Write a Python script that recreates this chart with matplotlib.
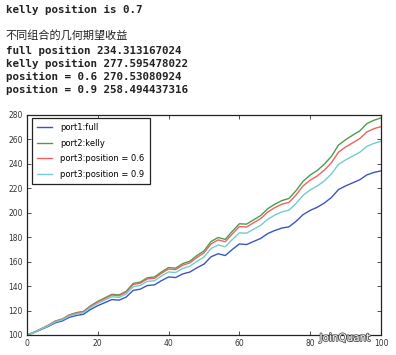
import matplotlib
matplotlib.use("Agg")
import matplotlib.pyplot as plt
import matplotlib.patheffects as pe

# printed results above the chart
kelly_line = "kelly position is 0.7"
title_cn = "不同组合的几何期望收益"
result_lines = [
    "full position 234.313167024",
    "kelly position 277.595478022",
    "position = 0.6 270.53080924",
    "position = 0.9 258.494437316",
]

# x positions (every second step of the simulation)
steps = list(range(0, 101, 2))

port_full = [100.0, 102.0, 104.5, 107.0, 110.0, 111.5, 114.5, 116.0, 117.0, 121.0,
             124.0, 126.5, 129.0, 128.5, 131.0, 136.5, 137.5, 140.5, 141.0, 144.5,
             147.5, 147.0, 150.0, 151.5, 155.0, 158.0, 164.0, 166.5, 165.0, 170.0,
             174.5, 174.0, 176.5, 179.0, 183.0, 185.5, 187.5, 188.5, 193.0, 198.5,
             202.0, 204.5, 208.0, 212.5, 219.0, 222.0, 224.5, 227.0, 231.0, 233.0,
             234.3]
port_kelly = [100.0, 102.3, 105.1, 108.0, 111.4, 113.1, 116.5, 118.3, 119.4, 124.0,
              127.5, 130.4, 133.3, 132.8, 135.7, 142.2, 143.3, 146.8, 147.5, 151.6,
              155.2, 154.7, 158.4, 160.4, 165.0, 168.8, 176.5, 179.8, 178.2, 184.9,
              191.0, 190.7, 194.2, 197.7, 203.3, 207.0, 210.0, 211.7, 218.1, 225.8,
              230.9, 234.6, 239.8, 246.2, 255.4, 259.8, 263.5, 267.0, 272.9, 275.7,
              277.6]
port_06 = [100.0, 102.2, 105.0, 107.8, 111.2, 112.9, 116.2, 117.9, 119.0, 123.6,
           127.0, 129.8, 132.7, 132.1, 135.0, 141.3, 142.4, 145.9, 146.4, 150.5,
           154.0, 153.5, 157.1, 159.0, 163.4, 167.2, 174.6, 177.8, 176.3, 182.7,
           188.7, 188.3, 191.8, 195.2, 200.6, 204.2, 207.0, 208.5, 214.6, 222.0,
           226.7, 230.1, 234.9, 241.0, 249.6, 253.8, 257.2, 260.7, 266.1, 268.8,
           270.5]
port_09 = [100.0, 102.1, 104.8, 107.5, 110.7, 112.4, 115.6, 117.2, 118.3, 122.6,
           125.9, 128.6, 131.3, 130.8, 133.5, 139.5, 140.6, 143.9, 144.4, 148.3,
           151.6, 151.1, 154.5, 156.3, 160.3, 163.8, 170.7, 173.7, 172.2, 178.1,
           183.6, 183.3, 186.5, 189.7, 194.7, 198.1, 200.7, 202.1, 207.6, 214.3,
           218.7, 221.9, 226.1, 231.8, 239.6, 243.3, 246.4, 249.5, 254.3, 256.8,
           258.5]

series = [
    ("port1:full", port_full, "#3a56c4"),
    ("port2:kelly", port_kelly, "#4f9a4f"),
    ("port3:position = 0.6", port_06, "#e8665e"),
    ("port3:position = 0.9", port_09, "#74cccc"),
]

W, H = 396, 355
fig = plt.figure(figsize=(W / 100, H / 100), dpi=100, facecolor="w")

mono = dict(family="DejaVu Sans Mono", fontweight="bold", fontsize=7.8, color="#222222")
fig.text(5.5 / W, 1 - 9.5 / H, kelly_line, va="center", **mono)
fig.text(5.5 / W, 1 - 35.5 / H, title_cn, va="center", fontsize=8.0, color="#222222",
         family=["Noto Sans CJK SC", "DejaVu Sans"])
for i, s in enumerate(result_lines):
    fig.text(5.5 / W, 1 - (50.5 + i * 13.2) / H, s, va="center", **mono)

ax = fig.add_axes([27 / W, 1 - 335 / H, (381 - 27) / W, (335 - 115) / H])
for label, vals, col in series:
    ax.plot(steps, vals, color=col, lw=1.0, label=label)

ax.set_xlim(0, 100)
ax.set_ylim(100, 280)
ax.set_xticks(range(0, 101, 20))
ax.set_yticks(range(100, 281, 20))
ax.tick_params(direction="in", top=True, right=True, length=3, width=0.6,
               labelsize=5.5, pad=3, colors="#333333")
for sp in ax.spines.values():
    sp.set_linewidth(0.9)
    sp.set_color("#222222")

leg = ax.legend(loc="upper left", bbox_to_anchor=(32 / W, 1 - 118 / H),
                bbox_transform=fig.transFigure, borderaxespad=0, fontsize=6.0,
                fancybox=False, framealpha=1, edgecolor="#222222",
                handlelength=1.8, handletextpad=1.0, labelspacing=0.8,
                borderpad=0.6)
leg.get_frame().set_linewidth(0.9)

# watermark
fig.text(345 / W, 1 - 338 / H, "JoinQuant", ha="center", va="center", fontsize=7.5,
         color="white", path_effects=[pe.withStroke(linewidth=1.2, foreground="#555555")])

fig.savefig("out.png", dpi=100, facecolor="w")
